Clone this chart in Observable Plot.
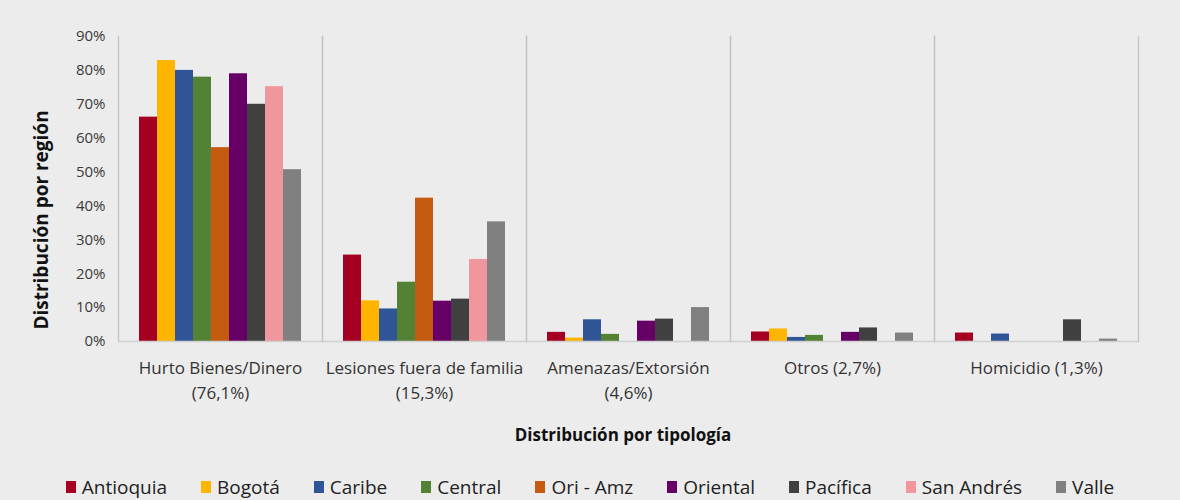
<!DOCTYPE html>
<html>
<head>
<meta charset="utf-8">
<script src="https://cdn.jsdelivr.net/npm/d3@7"></script>
<script src="https://cdn.jsdelivr.net/npm/@observablehq/plot@0.6"></script>
<style>
  html, body { margin: 0; padding: 0; background: #ececec; font-family: "Open Sans", sans-serif; }
  #wrap { position: relative; width: 1180px; height: 500px; }
  #ytitle { position: absolute; left: 41px; top: 220px; transform: translate(-50%, -50%) rotate(-90deg);
            font-weight: 700; font-size: 19px; color: #111; white-space: nowrap; }
  #xtitle { height: 50px; line-height: 50px; text-align: center; font-weight: 700; font-size: 17px; color: #111; padding-left: 66px; }
  #legend { height: 54px; display: flex; justify-content: center; align-items: center; gap: 34px; font-size: 19px; color: #222; }
  #legend .item { display: flex; align-items: center; gap: 6px; }
  #legend .sw { width: 10px; height: 12px; display: inline-block; }
</style>
</head>
<body>
<div id="wrap">
  <div id="chart"></div>
  <div id="ytitle">Distribución por región</div>
  <div id="xtitle">Distribución por tipología</div>
  <div id="legend"></div>
</div>
<script>
const categories = ["Hurto Bienes/Dinero", "Lesiones fuera de familia", "Amenazas/Extorsión", "Otros", "Homicidio"];
const shares = ["76,1%", "15,3%", "4,6%", "2,7%", "1,3%"];
const regions = ["Antioquia", "Bogotá", "Caribe", "Central", "Ori - Amz", "Oriental", "Pacífica", "San Andrés", "Valle"];
const colors = ["#a50021", "#ffb400", "#2f5597", "#548235", "#c55a11", "#660066", "#404040", "#f0979e", "#808080"];

const antioquia = [66.2, 25.5, 2.7, 2.8, 2.5];
const bogota    = [82.9, 12.0, 1.0, 3.7, 0];
const caribe    = [80.0, 9.6, 6.4, 1.2, 2.2];
const central   = [78.0, 17.5, 2.1, 1.8, 0];
const oriAmz    = [57.2, 42.3, 0, 0, 0];
const oriental  = [79.0, 11.9, 6.0, 2.7, 0];
const pacifica  = [70.0, 12.5, 6.6, 4.0, 6.4];
const sanAndres = [75.2, 24.2, 0, 0, 0];
const valle     = [50.7, 35.3, 10.0, 2.5, 0.7];

const yTicks = [0, 10, 20, 30, 40, 50, 60, 70, 80, 90];

const series = [antioquia, bogota, caribe, central, oriAmz, oriental, pacifica, sanAndres, valle];
const data = [];
regions.forEach((r, ri) => {
  categories.forEach((c, ci) => data.push({region: r, cat: c, value: series[ri][ci]}));
});
const labels = categories.map((c, i) => ({cat: c, label: c + (c.length > 12 ? "\n" : " ") + "(" + shares[i] + ")"}));

const chart = Plot.plot({
  width: 1180,
  height: 410,
  marginTop: 36,
  marginBottom: 69,
  marginLeft: 116,
  marginRight: 40,
  style: {background: "transparent", fontFamily: "Open Sans, sans-serif", fontSize: "15px", color: "#3a3a3a"},
  fx: {domain: categories, padding: 0, axis: null},
  x: {domain: regions, paddingInner: 0, paddingOuter: 1.1, axis: null},
  y: {domain: [0, 90], ticks: yTicks, tickFormat: d => d + "%", tickSize: 0, tickPadding: 13, label: null},
  color: {domain: regions, range: colors},
  marks: [
    Plot.frame({anchor: "left", stroke: "#c4c4c4", strokeWidth: 1.3}),
    Plot.frame({anchor: "right", stroke: "#c4c4c4", strokeWidth: 1.3}),
    Plot.barY(data, {fx: "cat", x: "region", y: "value", fill: "region"}),
    Plot.ruleY([0], {stroke: "#d0d0d0", strokeWidth: 1.3}),
    Plot.text(labels, {fx: "cat", text: "label", frameAnchor: "bottom", lineAnchor: "top", dy: 15, lineHeight: 1.47, fontSize: 17, fill: "#333"})
  ]
});
document.getElementById("chart").appendChild(chart);

const legend = document.getElementById("legend");
regions.forEach((r, i) => {
  const item = document.createElement("span");
  item.className = "item";
  const sw = document.createElement("span");
  sw.className = "sw";
  sw.style.background = colors[i];
  const t = document.createElement("span");
  t.textContent = r;
  item.appendChild(sw);
  item.appendChild(t);
  legend.appendChild(item);
});
</script>
</body>
</html>
